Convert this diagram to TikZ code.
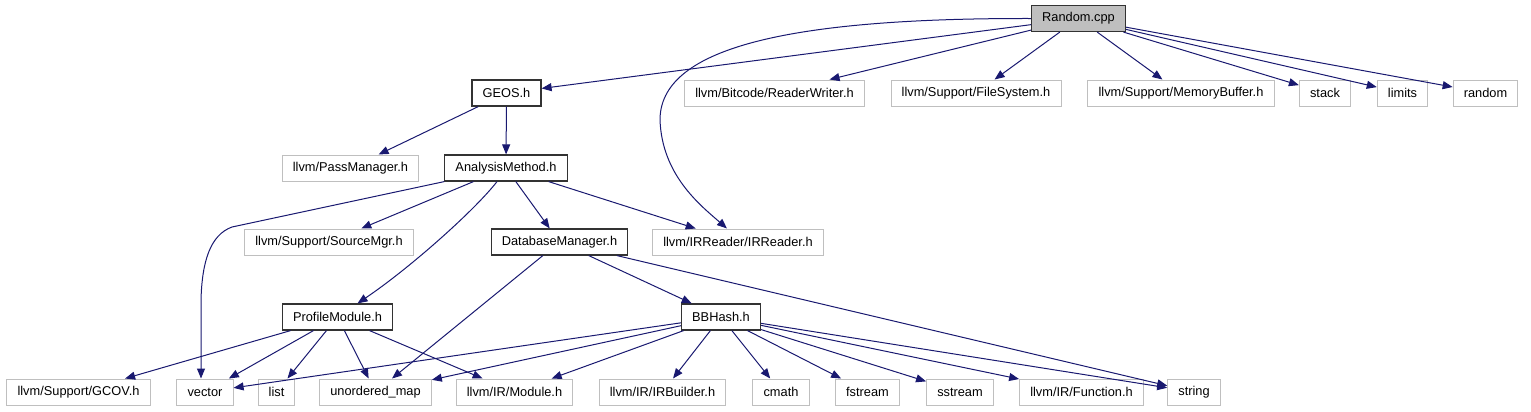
\documentclass[tikz,border=0pt]{standalone}
\usepackage{fontspec}
\setmainfont{Liberation Sans}
\usetikzlibrary{arrows.meta,calc}
\definecolor{depblue}{HTML}{191970}
\definecolor{sysgray}{HTML}{BFBFBF}
\tikzset{
  hdr/.style={draw=black!80,line width=0.9pt,fill=white,minimum height=19.5pt,
    inner xsep=8pt,inner ysep=0pt,font=\fontsize{9.6}{11}\selectfont},
  sys/.style={hdr,draw=sysgray,line width=0.75pt},
  root/.style={hdr,fill=sysgray},
  dep/.style={depblue,line width=0.75pt,-{Triangle[length=7.5pt,width=6pt]}},
}
\begin{document}
\begin{tikzpicture}[x=0.75pt,y=-0.75pt]
  \useasboundingbox (0,0) rectangle (1531,411);
  % rows of headers, y grows downwards (px)
  \node[root] (rnd) at (1078.5,18.5) {Random.cpp};
  \node[hdr] (geos) at (506.5,93) {GEOS.h};
  \node[sys] (rw) at (774.5,93) {llvm/Bitcode/ReaderWriter.h};
  \node[sys] (fs) at (976,93) {llvm/Support/FileSystem.h};
  \node[sys] (mb) at (1181,93) {llvm/Support/MemoryBuffer.h};
  \node[sys] (stk) at (1325,93) {stack};
  \node[sys] (lim) at (1402.5,93) {limits};
  \node[sys] (rand) at (1485.5,93) {random};
  \node[sys] (pass) at (350.5,168) {llvm/PassManager.h};
  \node[hdr] (am) at (506,168) {AnalysisMethod.h};
  \node[sys] (smgr) at (329,242) {llvm/Support/SourceMgr.h};
  \node[hdr] (dbm) at (559.5,242) {DatabaseManager.h};
  \node[sys] (irr) at (738,242) {llvm/IRReader/IRReader.h};
  \node[hdr] (pm) at (337.5,317) {ProfileModule.h};
  \node[hdr] (bbh) at (721,317) {BBHash.h};
  \node[sys] (gcov) at (78.5,392) {llvm/Support/GCOV.h};
  \node[sys] (vec) at (205,392) {vector};
  \node[sys] (lst) at (276.5,392) {list};
  \node[sys] (umap) at (375.5,392) {unordered\_map};
  \node[sys] (mod) at (514.5,392) {llvm/IR/Module.h};
  \node[sys] (irb) at (662.5,392) {llvm/IR/IRBuilder.h};
  \node[sys] (cm) at (781,392) {cmath};
  \node[sys] (fst) at (867.5,392) {fstream};
  \node[sys] (sst) at (960,392) {sstream};
  \node[sys] (fun) at (1081.5,392) {llvm/IR/Function.h};
  \node[sys] (str) at (1194,392) {string};
  % include edges
  \foreach \a/\b in {rnd/geos,rnd/rw,rnd/fs,rnd/mb,rnd/stk,rnd/lim,rnd/rand,
    geos/pass,geos/am,am/smgr,am/dbm,am/irr,dbm/umap,dbm/bbh,dbm/str,
    pm/gcov,pm/vec,pm/lst,pm/umap,pm/mod,
    bbh/vec,bbh/umap,bbh/mod,bbh/irb,bbh/cm,bbh/fst,bbh/sst,bbh/fun,bbh/str}
    {\draw[dep] (\a) -- (\b);}
  % the three bent ones
  \draw[dep] (rnd.west) .. controls (780,18) and (660,50) .. (660,120)
    .. controls (662,175) and (700,205) .. ($(irr.north)+(-11,0)$);
  \draw[dep] (am.south west) -- (232,227) .. controls (210,235) and (202,262) .. (201,300)
    -- ($(vec.north)+(-4,0)$);
  \draw[dep] ($(am.south)+(-9,0)$) .. controls (475,210) and (410,268) .. ($(pm.north)+(20,0)$);
\end{tikzpicture}
\end{document}
